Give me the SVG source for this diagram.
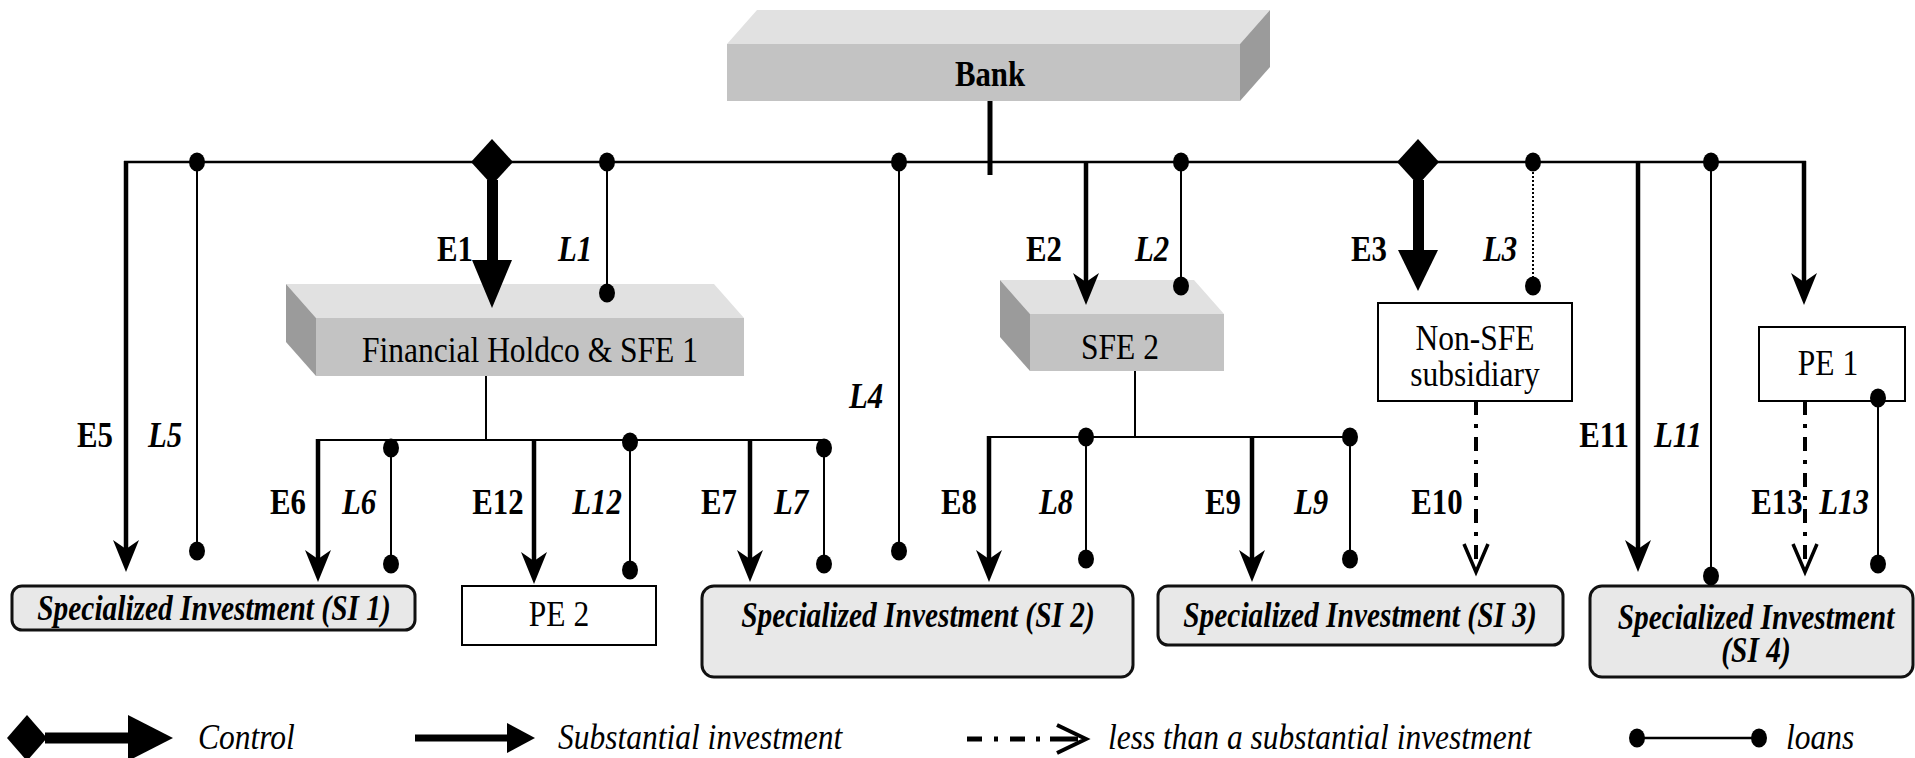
<svg xmlns="http://www.w3.org/2000/svg" width="1915" height="758" viewBox="0 0 1915 758" font-family="'Liberation Serif', 'DejaVu Serif', serif">
<style>
.t{font-family:'Liberation Serif','DejaVu Serif',serif;font-size:35px;fill:#000;text-anchor:middle}
.s{text-anchor:start}
.b{font-weight:bold}
.i{font-style:italic}
.front{fill:#c3c3c3}
.top{fill:#e1e1e1}
.side{fill:#9b9b9b}
.box{fill:#fff;stroke:#000;stroke-width:2}
.si{fill:#e8e8e8;stroke:#111;stroke-width:3}
.bus{stroke:#000;stroke-width:2.5;fill:none}
.ln{stroke:#000;stroke-width:2;fill:none}
.inv{stroke:#000;stroke-width:4.5;fill:none}
.dd{stroke:#000;stroke-width:4;fill:none;stroke-dasharray:14 9 4 9}
.dt{stroke:#000;stroke-width:2;fill:none;stroke-dasharray:2 2}
</style>
<defs>
<path id="ah" d="M0,0 L-13,-32 L0,-23 L13,-32 Z"/>
<path id="oh" d="M-12,-28 L0,0 L12,-28" fill="none" stroke="#000" stroke-width="3.5"/>
<ellipse id="dot" rx="8" ry="9.5"/>
</defs>

<g id="bank">
<polygon class="top" points="727,44 757,10 1270,10 1240,44"/>
<polygon class="side" points="1240,44 1270,10 1270,67 1240,101"/>
<rect class="front" x="727" y="44" width="513" height="57"/>
<text class="t b" transform="translate(990 86) scale(.88 1)">Bank</text>
</g>

<g id="fh">
<polygon class="top" points="286,284 714,284 744,318 316,318"/>
<polygon class="side" points="286,284 316,318 316,376 286,342"/>
<rect class="front" x="316" y="318" width="428" height="58"/>
<text class="t" transform="translate(530 362) scale(.9 1)">Financial Holdco &amp; SFE 1</text>
</g>

<g id="sfe2">
<polygon class="top" points="1000,280 1194,280 1224,314 1030,314"/>
<polygon class="side" points="1000,280 1030,314 1030,371 1000,337"/>
<rect class="front" x="1030" y="314" width="194" height="57"/>
<text class="t" transform="translate(1120 359) scale(.9 1)">SFE 2</text>
</g>

<g id="nonsfe">
<rect class="box" x="1378" y="303" width="194" height="98"/>
<text class="t" transform="translate(1475 350) scale(.9 1)">Non-SFE</text>
<text class="t" transform="translate(1475 386) scale(.9 1)">subsidiary</text>
</g>

<g id="pe1">
<rect class="box" x="1759" y="327" width="146" height="74"/>
<text class="t" transform="translate(1828 375) scale(.9 1)">PE 1</text>
</g>

<g id="pe2">
<rect class="box" x="462" y="586" width="194" height="59"/>
<text class="t" transform="translate(559 626) scale(.9 1)">PE 2</text>
</g>

<g id="si1">
<rect class="si" x="12" y="586" width="403" height="44" rx="10"/>
<text class="t b i" transform="translate(214 620) scale(.84 1)">Specialized Investment (SI 1)</text>
</g>

<g id="si2">
<rect class="si" x="702" y="586" width="431" height="91" rx="12"/>
<text class="t b i" transform="translate(918 627) scale(.84 1)">Specialized Investment (SI 2)</text>
</g>

<g id="si3">
<rect class="si" x="1158" y="586" width="405" height="59" rx="10"/>
<text class="t b i" transform="translate(1360 627) scale(.84 1)">Specialized Investment (SI 3)</text>
</g>

<g id="si4">
<rect class="si" x="1590" y="586" width="323" height="91" rx="12"/>
<text class="t b i" transform="translate(1756 629) scale(.84 1)">Specialized Investment</text>
<text class="t b i" transform="translate(1756 662) scale(.84 1)">(SI 4)</text>
</g>

<g id="connectors">
<path class="bus" d="M124,162 H1806"/>
<line x1="990" y1="101" x2="990" y2="175" stroke="#000" stroke-width="5"/>
<path class="ln" d="M486,376 V440 M318,440 H824 M1135,371 V437 M989,437 H1350"/>

<polygon points="492,139 513,162 492,185 471,162"/>
<rect x="487" y="180" width="11" height="82"/>
<polygon points="472,260 512,260 492,308"/>
<polygon points="1418,139 1439,162 1418,185 1397,162"/>
<rect x="1413" y="180" width="11" height="72"/>
<polygon points="1398,250 1438,250 1418,291"/>

<path class="inv" d="M126,161 V550 M1086,162 V284 M1804,161 V284 M318,439 V560 M534,440 V562 M750,440 V560 M989,436 V560 M1252,437 V560 M1638,162 V550"/>
<use href="#ah" x="126" y="572"/>
<use href="#ah" x="1086" y="305"/>
<use href="#ah" x="1804" y="305"/>
<use href="#ah" x="318" y="582"/>
<use href="#ah" x="534" y="584"/>
<use href="#ah" x="750" y="582"/>
<use href="#ah" x="989" y="582"/>
<use href="#ah" x="1252" y="582"/>
<use href="#ah" x="1638" y="572"/>

<path class="dd" d="M1476,401 V568 M1805,401 V568"/>
<use href="#oh" x="1476" y="572"/>
<use href="#oh" x="1805" y="572"/>

<path class="ln" d="M197,162 V551 M607,162 V293 M899,162 V551 M1181,162 V286 M1711,162 V576 M391,448 V564 M824,448 V564 M630,442 V570 M1086,437 V559 M1350,437 V559 M1878,398 V564"/>
<path class="dt" d="M1533,168 V280"/>
<use href="#dot" x="197" y="162"/><use href="#dot" x="197" y="551"/>
<use href="#dot" x="607" y="162"/><use href="#dot" x="607" y="293"/>
<use href="#dot" x="899" y="162"/><use href="#dot" x="899" y="551"/>
<use href="#dot" x="1181" y="162"/><use href="#dot" x="1181" y="286"/>
<use href="#dot" x="1533" y="162"/><use href="#dot" x="1533" y="286"/>
<use href="#dot" x="1711" y="162"/><use href="#dot" x="1711" y="576"/>
<use href="#dot" x="391" y="448"/><use href="#dot" x="391" y="564"/>
<use href="#dot" x="824" y="448"/><use href="#dot" x="824" y="564"/>
<use href="#dot" x="630" y="442"/><use href="#dot" x="630" y="570"/>
<use href="#dot" x="1086" y="437"/><use href="#dot" x="1086" y="559"/>
<use href="#dot" x="1350" y="437"/><use href="#dot" x="1350" y="559"/>
<use href="#dot" x="1878" y="398"/><use href="#dot" x="1878" y="564"/>
</g>

<g id="labels">
<text class="t b" transform="translate(455 261) scale(.88 1)">E1</text>
<text class="t b i" transform="translate(575 261) scale(.88 1)">L1</text>
<text class="t b" transform="translate(1044 261) scale(.88 1)">E2</text>
<text class="t b i" transform="translate(1152 261) scale(.88 1)">L2</text>
<text class="t b" transform="translate(1369 261) scale(.88 1)">E3</text>
<text class="t b i" transform="translate(1500 261) scale(.88 1)">L3</text>
<text class="t b i" transform="translate(866 408) scale(.88 1)">L4</text>
<text class="t b" transform="translate(95 447) scale(.88 1)">E5</text>
<text class="t b i" transform="translate(165 447) scale(.88 1)">L5</text>
<text class="t b" transform="translate(1604 447) scale(.88 1)">E11</text>
<text class="t b i" transform="translate(1678 447) scale(.88 1)">L11</text>
<text class="t b" transform="translate(288 514) scale(.88 1)">E6</text>
<text class="t b i" transform="translate(359 514) scale(.88 1)">L6</text>
<text class="t b" transform="translate(498 514) scale(.88 1)">E12</text>
<text class="t b i" transform="translate(597 514) scale(.88 1)">L12</text>
<text class="t b" transform="translate(719 514) scale(.88 1)">E7</text>
<text class="t b i" transform="translate(791 514) scale(.88 1)">L7</text>
<text class="t b" transform="translate(959 514) scale(.88 1)">E8</text>
<text class="t b i" transform="translate(1056 514) scale(.88 1)">L8</text>
<text class="t b" transform="translate(1223 514) scale(.88 1)">E9</text>
<text class="t b i" transform="translate(1311 514) scale(.88 1)">L9</text>
<text class="t b" transform="translate(1437 514) scale(.88 1)">E10</text>
<text class="t b" transform="translate(1777 514) scale(.88 1)">E13</text>
<text class="t b i" transform="translate(1844 514) scale(.88 1)">L13</text>
</g>

<g id="legend">
<polygon points="7,738 27,715 47,738 27,761"/>
<rect x="45" y="732.5" width="85" height="11"/>
<polygon points="128,715 173,738 128,761"/>
<text class="t i s" transform="translate(198 749) scale(.9 1)">Control</text>
<line x1="415" y1="738" x2="510" y2="738" stroke="#000" stroke-width="7"/>
<polygon points="507,723 535,738 507,753"/>
<text class="t i s" transform="translate(558 749) scale(.9 1)">Substantial investment</text>
<path d="M967,739 H982 M994,739 H998 M1010,739 H1025 M1036,739 H1040 M1050,739 H1078" stroke="#000" stroke-width="5" fill="none"/>
<path d="M1057,725 L1086,739 L1057,753" stroke="#000" stroke-width="4" fill="none"/>
<text class="t i s" transform="translate(1108 749) scale(.9 1)">less than a substantial investment</text>
<line x1="1637" y1="738" x2="1759" y2="738" stroke="#000" stroke-width="2.5"/>
<use href="#dot" x="1637" y="738"/><use href="#dot" x="1759" y="738"/>
<text class="t i s" transform="translate(1786 749) scale(.9 1)">loans</text>
</g>
</svg>
